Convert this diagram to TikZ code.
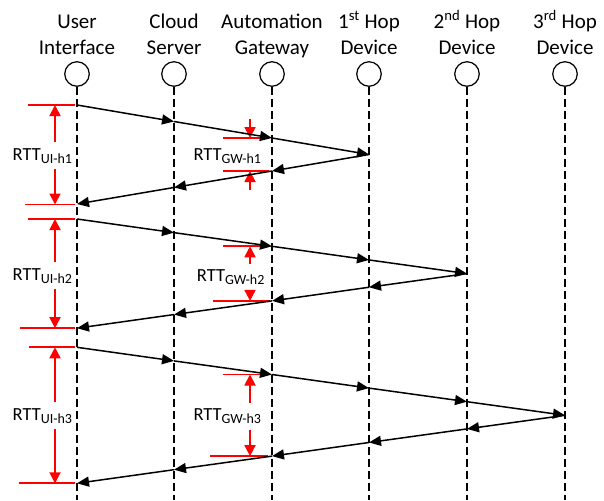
\documentclass[tikz,border=0pt]{standalone}
\usepackage{fontspec}
\setmainfont{Carlito}
\usetikzlibrary{arrows.meta, calc, positioning}

\newcommand{\rttsub}[1]{\raisebox{-3pt}{\fontsize{14}{14}\selectfont #1}}

\tikzset{
  header/.style={align=center, font=\fontsize{21}{26.7}\selectfont, inner sep=0pt, anchor=base},
  lifehead/.style={draw, circle, minimum size=24.5pt, inner sep=0pt, line width=1.2pt},
  lifeline/.style={line width=1.5pt, dash pattern=on 8pt off 4pt},
  msg/.style={-{Triangle[length=12pt, width=10pt]}, line width=1.5pt},
  rttline/.style={red, line width=1.8pt},
  rttarrow/.style={red, line width=1.8pt, -{Triangle[length=11pt, width=11pt]}},
  rttlabel/.style={font=\fontsize{18.5}{20}\selectfont, inner xsep=1pt, inner ysep=6pt, anchor=base west},
}

\begin{document}
\begin{tikzpicture}[x=1pt, y=-1pt]
    \useasboundingbox (0,0) rectangle (604,500);

    % Participants
    \node[lifehead] (ui) at (77,74) {};
    \node[lifehead] (cs) at (174,74) {};
    \node[lifehead] (gw) at (272,74) {};
    \node[lifehead] (h1) at (369,74) {};
    \node[lifehead] (h2) at (467,74) {};
    \node[lifehead] (h3) at (565,74) {};

    \node[header] (ui-txt) at (ui |- 0,55) {User\\Interface};
    \node[header] (cs-txt) at (cs |- 0,55) {Cloud\\Server};
    \node[header] (gw-txt) at (gw |- 0,55) {Automation\\Gateway};
    \node[header] (h1-txt) at (h1 |- 0,55) {1\textsuperscript{st} Hop\\Device};
    \node[header] (h2-txt) at (h2 |- 0,55) {2\textsuperscript{nd} Hop\\Device};
    \node[header] (h3-txt) at (h3 |- 0,55) {3\textsuperscript{rd} Hop\\Device};

    % Lifelines
    \foreach \p in {ui,cs,gw,h1,h2,h3}
        \draw[lifeline] (\p.south) -- (\p |- 0,500);

    % RTT UI-h1 and GW-h1
    \coordinate (ui1a) at (55,105);
    \coordinate (ui1b) at (55,204.5);
    \draw[rttline] (28,105) -- (75,105);
    \draw[rttline] (25,204.5) -- (75,204.5);
    \node[rttlabel] (ui1lbl) at (11.5,160) {RTT\rttsub{UI-h1}};
    \draw[rttarrow] (ui1lbl.north -| ui1a) -- (ui1a);
    \draw[rttarrow] (ui1lbl.south -| ui1b) -- (ui1b);

    \coordinate (gw1a) at (250,138);
    \coordinate (gw1b) at (250,171);
    \draw[rttline] (223,138) -- (268,138);
    \draw[rttline] (223,171) -- (269,171);
    \node[rttlabel] (gw1lbl) at (192.3,160) {RTT\rttsub{GW-h1}};
    \draw[rttarrow] ($(gw1a)+(0,-19)$) -- (gw1a);
    \draw[rttarrow] ($(gw1b)+(0,19)$) -- (gw1b);

    % RTT UI-h2 and GW-h2
    \coordinate (ui2a) at (55,219);
    \coordinate (ui2b) at (55,328.2);
    \draw[rttline] (28,219) -- (75,219);
    \draw[rttline] (20,328.2) -- (75,328.2);
    \node[rttlabel] (ui2lbl) at (11.5,280) {RTT\rttsub{UI-h2}};
    \draw[rttarrow] (ui2lbl.north -| ui2a) -- (ui2a);
    \draw[rttarrow] (ui2lbl.south -| ui2b) -- (ui2b);

    \coordinate (gw2a) at (250,246.3);
    \coordinate (gw2b) at (250,300.9);
    \draw[rttline] (223,246.3) -- (268,246.3);
    \draw[rttline] (213,300.9) -- (270,300.9);
    \node[rttlabel] (gw2lbl) at (195.7,281.7) {RTT\rttsub{GW-h2}};
    \draw[rttarrow] (gw2lbl.north -| gw2a) -- (gw2a);
    \draw[rttarrow] (gw2lbl.south -| gw2b) -- (gw2b);

    % RTT UI-h3 and GW-h3
    \coordinate (ui3a) at (55,347.3);
    \coordinate (ui3b) at (55,483.3);
    \draw[rttline] (29,347.3) -- (75,347.3);
    \draw[rttline] (19,483.3) -- (75,483.3);
    \node[rttlabel] (ui3lbl) at (11.5,420) {RTT\rttsub{UI-h3}};
    \draw[rttarrow] (ui3lbl.north -| ui3a) -- (ui3a);
    \draw[rttarrow] (ui3lbl.south -| ui3b) -- (ui3b);

    \coordinate (gw3a) at (250,374.5);
    \coordinate (gw3b) at (250,456.1);
    \draw[rttline] (223,374.5) -- (268,374.5);
    \draw[rttline] (210,456.1) -- (268,456.1);
    \node[rttlabel] (gw3lbl) at (192.3,420.7) {RTT\rttsub{GW-h3}};
    \draw[rttarrow] (gw3lbl.north -| gw3a) -- (gw3a);
    \draw[rttarrow] (gw3lbl.south -| gw3b) -- (gw3b);

    % Messages, round 1 (1st hop)
    \foreach \a/\b [count=\i] in {ui/cs, cs/gw, gw/h1, h1/gw, gw/cs, cs/ui} {
        \pgfmathsetmacro\ta{105+16.5*(\i-1)}
        \draw[msg] (\a |- 0,\ta) -- (\b |- 0,\ta+16.5);
    }

    % Messages, round 2 (2nd hop)
    \foreach \a/\b [count=\i] in {ui/cs, cs/gw, gw/h1, h1/h2, h2/h1, h1/gw, gw/cs, cs/ui} {
        \pgfmathsetmacro\ta{219+13.65*(\i-1)}
        \draw[msg] (\a |- 0,\ta) -- (\b |- 0,\ta+13.65);
    }

    % Messages, round 3 (3rd hop)
    \foreach \a/\b [count=\i] in {ui/cs, cs/gw, gw/h1, h1/h2, h2/h3, h3/h2, h2/h1, h1/gw, gw/cs, cs/ui} {
        \pgfmathsetmacro\ta{347.3+13.6*(\i-1)}
        \draw[msg] (\a |- 0,\ta) -- (\b |- 0,\ta+13.6);
    }
\end{tikzpicture}
\end{document}
